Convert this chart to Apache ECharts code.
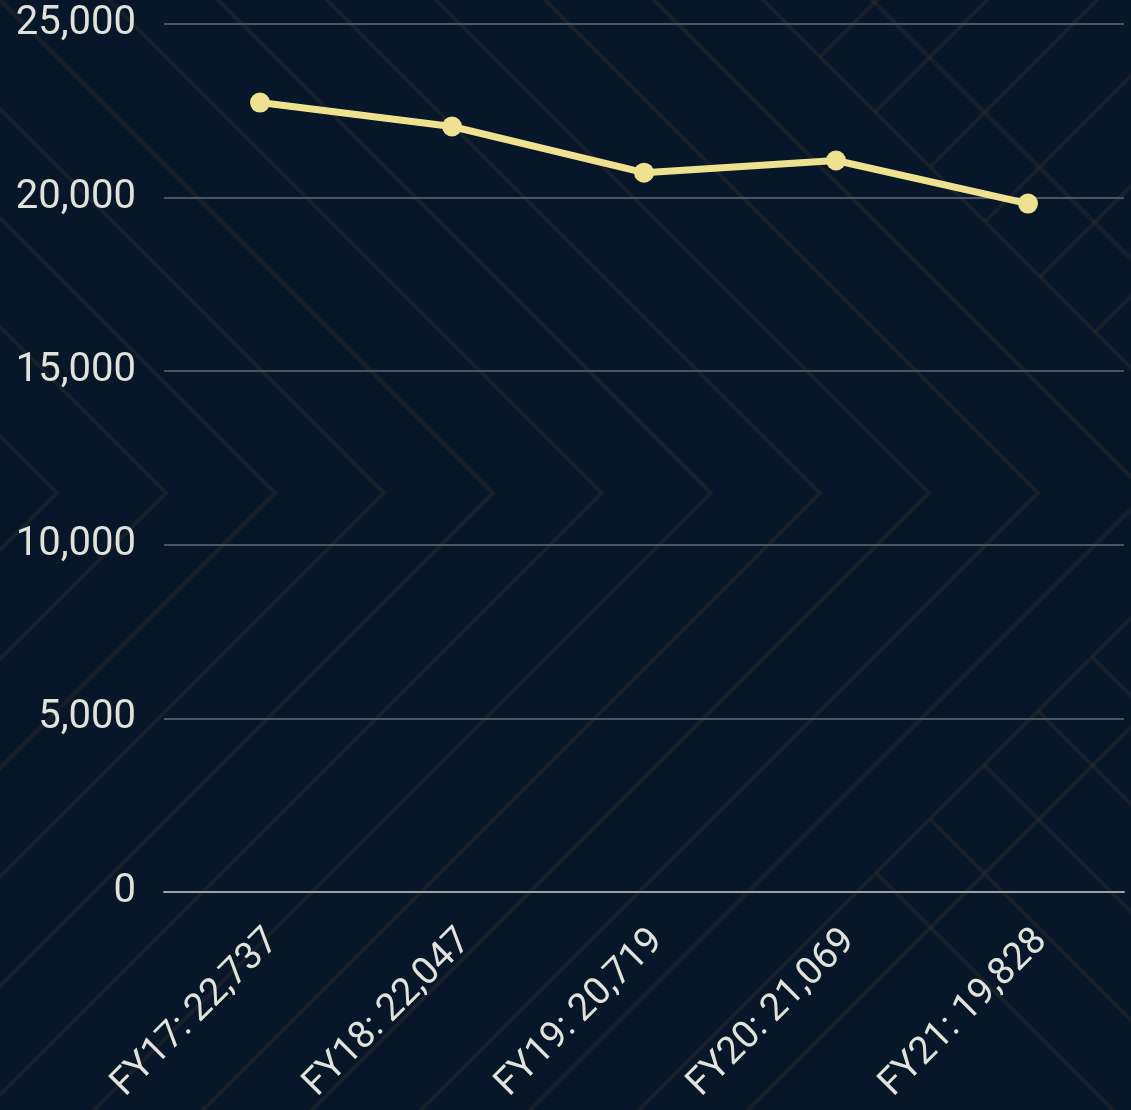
<!DOCTYPE html>
<html>
<head>
<meta charset="utf-8">
<title>FY trend</title>
<script src="https://cdn.jsdelivr.net/npm/echarts@6/dist/echarts.min.js"></script>
<style>
  html, body { margin: 0; padding: 0; background: #071628; }
  #chart { width: 1131px; height: 1110px; }
</style>
</head>
<body>
<div id="chart"></div>
<script>
var years = ['FY17', 'FY18', 'FY19', 'FY20', 'FY21'];
var values = [22737, 22047, 20719, 21069, 19828];
var yTicks = [0, 5000, 10000, 15000, 20000, 25000];

var chart = echarts.init(document.getElementById('chart'));

// faint chevron pattern behind the chart
var patternColor = 'rgba(58,56,50,0.33)';
var deco = [];
for (var k = 0; k < 13; k++) {
    var x0 = 57 + 109 * k;
    deco.push({
        type: 'polyline', silent: true, z: -10,
        shape: { points: [[x0 - 1200, 493 - 1200], [x0, 493], [x0 - 1200, 493 + 1200]] },
        style: { stroke: patternColor, lineWidth: 4, fill: null }
    });
}
// steps on the right-hand side
for (var s = 0; s < 6; s++) {
    var ux = 820 + 55 * s, uy = ux - 763;
    deco.push({
        type: 'line', silent: true, z: -10,
        shape: { x1: ux, y1: uy, x2: ux + 600, y2: uy - 600 },
        style: { stroke: patternColor, lineWidth: 4 }
    });
    var lx = 876 + 54 * s, ly = 1749 - lx;
    deco.push({
        type: 'line', silent: true, z: -10,
        shape: { x1: lx, y1: ly, x2: lx + 600, y2: ly + 600 },
        style: { stroke: patternColor, lineWidth: 4 }
    });
}

option = {
    backgroundColor: '#071628',
    textStyle: { fontFamily: 'Roboto' },
    graphic: deco,
    grid: {
        left: 164,
        right: 7,
        top: 24,
        bottom: 218,
        containLabel: false
    },
    xAxis: {
        type: 'category',
        data: years.map(function (y, i) {
            return y + ': ' + values[i].toLocaleString('en-US');
        }),
        boundaryGap: true,
        axisLine: { show: true, lineStyle: { color: '#9aa2a2', width: 2 } },
        axisTick: { show: false },
        axisLabel: {
            rotate: 45,
            interval: 0,
            margin: 30,
            verticalAlign: 'top',
            color: '#dfe3da',
            fontSize: 38,
            fontFamily: 'Roboto'
        }
    },
    yAxis: {
        type: 'value',
        min: yTicks[0],
        max: yTicks[yTicks.length - 1],
        interval: 5000,
        axisLine: { show: false },
        axisTick: { show: false },
        axisLabel: {
            margin: 28,
            color: '#dfe3da',
            fontSize: 40,
            fontFamily: 'Roboto',
            formatter: function (v) { return v.toLocaleString('en-US'); }
        },
        splitLine: { lineStyle: { color: '#4a5660', width: 2 } }
    },
    series: [
        {
            name: 'Value',
            type: 'line',
            data: values,
            symbol: 'circle',
            symbolSize: 20,
            lineStyle: { color: '#eee18f', width: 7 },
            itemStyle: { color: '#eee18f' },
            animation: false
        }
    ]
};

chart.setOption(option);
</script>
</body>
</html>
